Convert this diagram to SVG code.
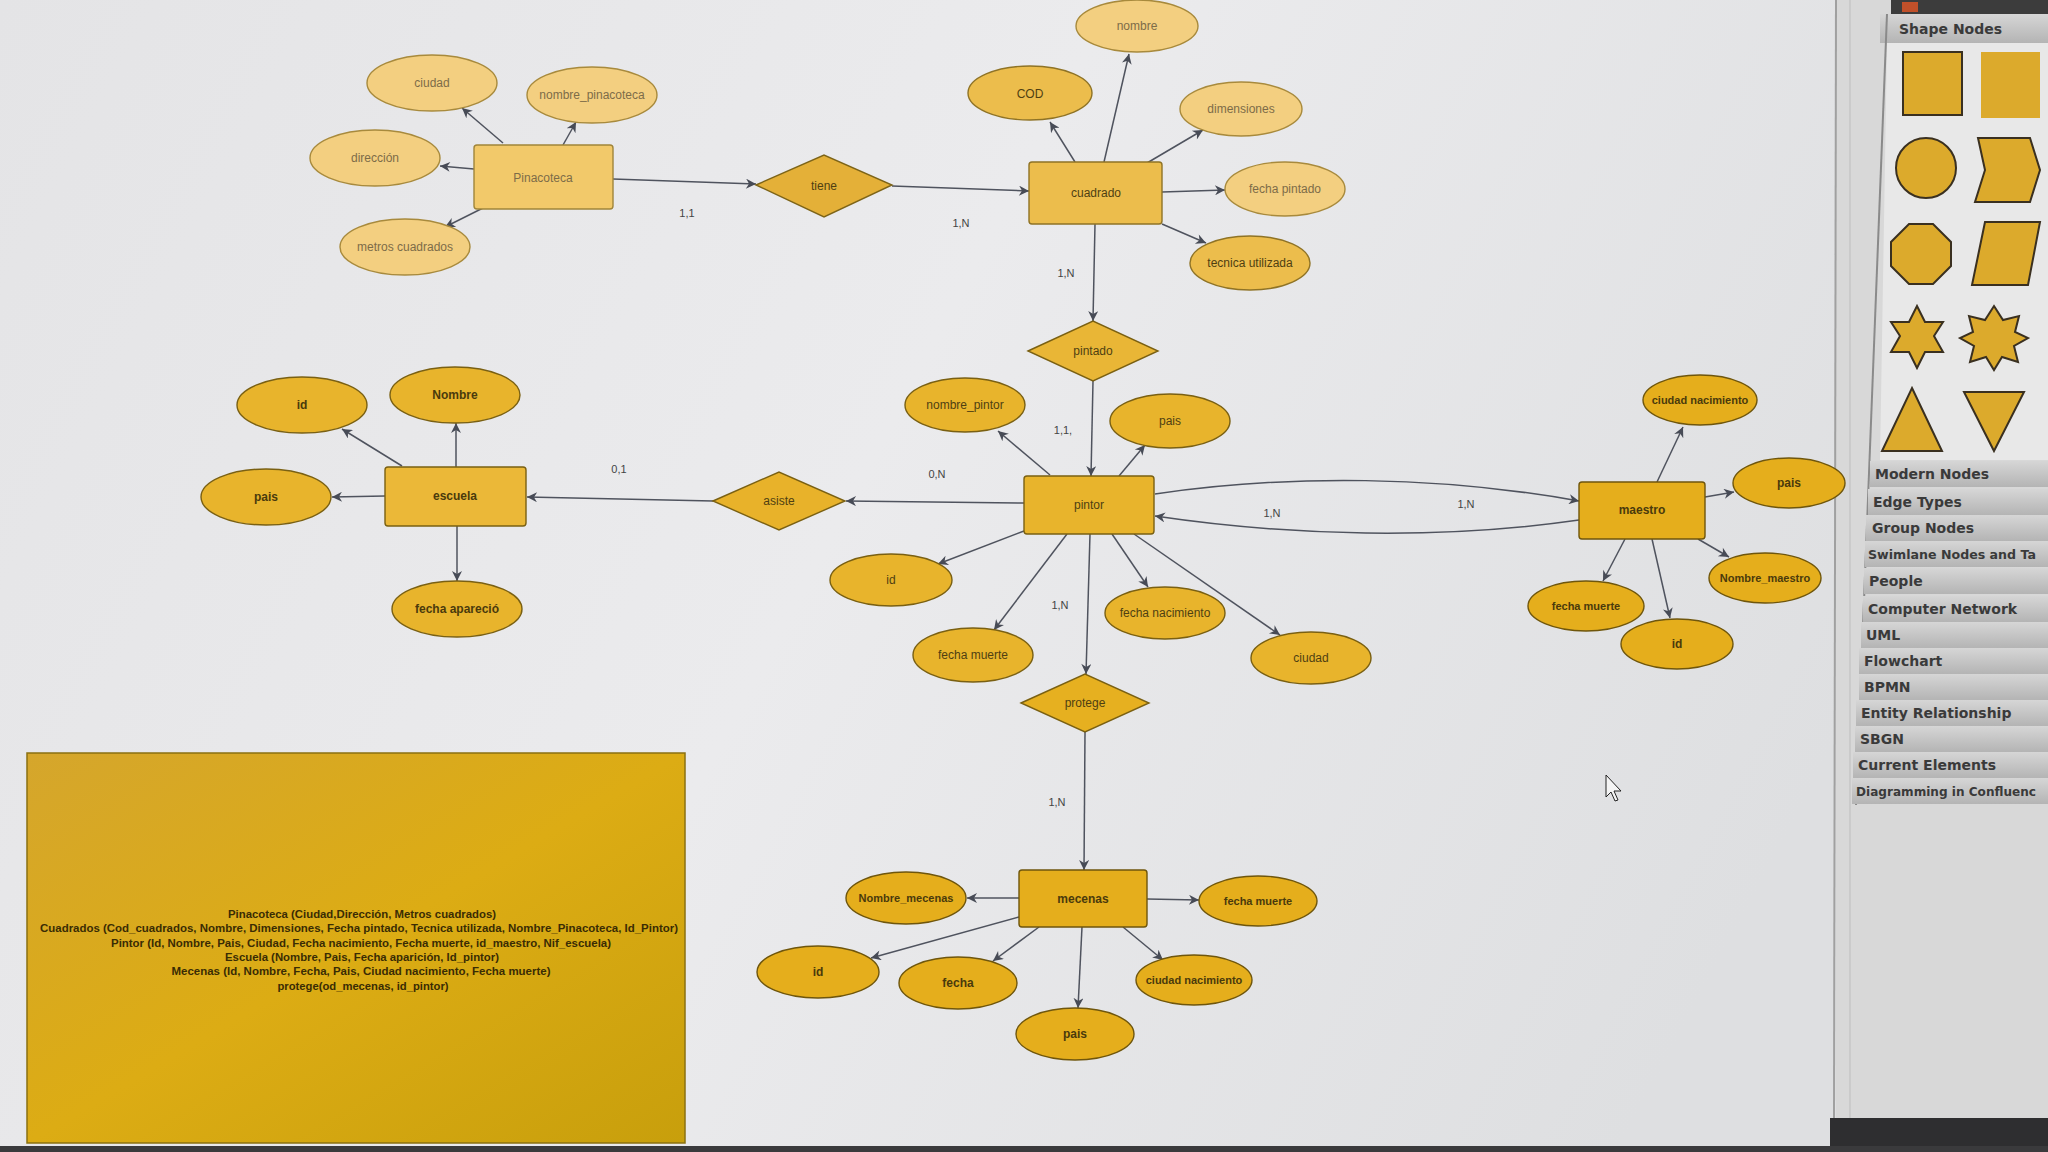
<svg xmlns="http://www.w3.org/2000/svg" width="2048" height="1152" viewBox="0 0 2048 1152">
<defs>
<linearGradient id="bg" x1="0" y1="0" x2="1" y2="0.3">
<stop offset="0" stop-color="#e4e4e6"/><stop offset="0.5" stop-color="#ebebed"/><stop offset="1" stop-color="#dedfe1"/>
</linearGradient>
<linearGradient id="boxg" x1="0" y1="0" x2="1" y2="1">
<stop offset="0" stop-color="#d5a62c"/><stop offset="0.5" stop-color="#dcac14"/><stop offset="1" stop-color="#c89f0c"/>
</linearGradient>
<linearGradient id="barg" x1="0" y1="0" x2="0" y2="1">
<stop offset="0" stop-color="#d6d6d6"/><stop offset="1" stop-color="#b4b4b4"/>
</linearGradient>
<marker id="arr" viewBox="0 0 10 10" refX="10" refY="5" markerWidth="12" markerHeight="10" markerUnits="userSpaceOnUse" orient="auto">
<path d="M0,0 L10,5 L0,10 L3,5 z" fill="#474b56"/>
</marker>
</defs>
<style>
text{font-family:"Liberation Sans",Arial,sans-serif;font-size:12px;text-anchor:middle}
.lt{fill:#f3cf80;stroke:#a88a3c;stroke-width:1.4}
.md{fill:#ecbd4c;stroke:#8f7325;stroke-width:1.4}
.st{fill:#e8b42c;stroke:#7a6012;stroke-width:1.4}
.dp{fill:#e5ae1c;stroke:#6f560c;stroke-width:1.4}
.tl{fill:#7d6c48}
.td{fill:#4f3f12}
.tb{fill:#4a3a0c;font-weight:bold}
.c{fill:none;stroke:#4f535e;stroke-width:1.5;marker-end:url(#arr)}
.lb{fill:#444;font-size:11px}
.bx{fill:#3a2c04;font-weight:bold;font-size:11.5px}
.pl{font-family:"DejaVu Sans",sans-serif;font-weight:bold;font-size:14px;fill:#3a3a3a;text-anchor:start}
.sh{fill:#dcaa2c;stroke:#3a3020;stroke-width:2}
</style>
<rect width="2048" height="1152" fill="url(#bg)"/>

<!-- right panel -->
<g id="palette">
<rect x="1836" y="0" width="212" height="1120" fill="#d8d8d8"/>
<line x1="1836" y1="0" x2="1834" y2="1120" stroke="#a0a0a0" stroke-width="2"/>
<line x1="1850" y1="0" x2="1850" y2="1120" stroke="#bdbdbd" stroke-width="1"/>
<rect x="1891" y="0" width="157" height="14" fill="#3c3c3c"/>
<rect x="1902" y="2" width="16" height="10" fill="#c0502a"/>
<rect x="1880" y="14" width="168" height="29" fill="url(#barg)"/>
<text x="1899" y="34" class="pl">Shape Nodes</text>
<polygon points="1887,43 2048,43 2048,460 1880,460" fill="#e8e8e8"/>
<line x1="1887" y1="14" x2="1856" y2="805" stroke="#8a8a8a" stroke-width="2"/>
<rect x="1903" y="52" width="59" height="63" class="sh"/>
<rect x="1981" y="52" width="59" height="66" fill="#dcaa2c"/>
<circle cx="1926" cy="168" r="30" class="sh"/>
<polygon points="1978,138 2030,138 2040,170 2030,202 1975,202 1985,170" class="sh"/>
<polygon points="1909,224 1933,224 1951,242 1951,266 1933,284 1909,284 1891,266 1891,242" class="sh"/>
<polygon points="1985,222 2040,222 2028,285 1972,285" class="sh"/>
<polygon points="1917,306 1925,322 1943,322 1934,336 1943,352 1925,352 1917,368 1909,352 1891,352 1900,336 1891,322 1909,322" class="sh"/>
<polygon points="1994,306 2003,320 2019,316 2015,332 2028,338 2014,346 2018,362 2002,357 1994,370 1986,357 1970,362 1974,346 1960,338 1973,332 1969,316 1985,320" class="sh"/>
<polygon points="1912,388 1942,451 1882,451" class="sh"/>
<polygon points="1964,392 2024,392 1994,451" class="sh"/>
<g id="palette-list">
<rect x="1870" y="461" width="178" height="26" fill="url(#barg)"/>
<rect x="1868" y="489" width="180" height="26" fill="url(#barg)"/>
<rect x="1866" y="515" width="182" height="26" fill="url(#barg)"/>
<rect x="1865" y="541" width="183" height="26" fill="url(#barg)"/>
<rect x="1864" y="568" width="184" height="26" fill="url(#barg)"/>
<rect x="1863" y="596" width="185" height="26" fill="url(#barg)"/>
<rect x="1861" y="622" width="187" height="26" fill="url(#barg)"/>
<rect x="1859" y="648" width="189" height="26" fill="url(#barg)"/>
<rect x="1859" y="674" width="189" height="26" fill="url(#barg)"/>
<rect x="1856" y="700" width="192" height="26" fill="url(#barg)"/>
<rect x="1855" y="726" width="193" height="26" fill="url(#barg)"/>
<rect x="1853" y="752" width="195" height="26" fill="url(#barg)"/>
<rect x="1852" y="778" width="196" height="26" fill="url(#barg)"/>
<text x="1875" y="479" class="pl">Modern Nodes</text>
<text x="1873" y="507" class="pl">Edge Types</text>
<text x="1872" y="533" class="pl">Group Nodes</text>
<text x="1868" y="559" class="pl" style="font-size:13px" textLength="168" lengthAdjust="spacingAndGlyphs">Swimlane Nodes and Ta</text>
<text x="1869" y="586" class="pl">People</text>
<text x="1868" y="614" class="pl">Computer Network</text>
<text x="1866" y="640" class="pl">UML</text>
<text x="1864" y="666" class="pl">Flowchart</text>
<text x="1864" y="692" class="pl">BPMN</text>
<text x="1861" y="718" class="pl">Entity Relationship</text>
<text x="1860" y="744" class="pl">SBGN</text>
<text x="1858" y="770" class="pl">Current Elements</text>
<text x="1856" y="796" class="pl" style="font-size:13px" textLength="180" lengthAdjust="spacingAndGlyphs">Diagramming in Confluenc</text>
</g>
</g>
<rect x="1830" y="1118" width="218" height="34" fill="#2e2e30"/>
<rect x="0" y="1146" width="2048" height="6" fill="#3a3a3c"/>

<!-- connectors -->
<g id="connectors">
<line x1="503" y1="143" x2="462" y2="108" class="c"/>
<line x1="563" y1="145" x2="576" y2="122" class="c"/>
<line x1="474" y1="169" x2="440" y2="166" class="c"/>
<line x1="483" y1="208" x2="445" y2="227" class="c"/>
<line x1="613" y1="179" x2="756" y2="184" class="c"/>
<line x1="892" y1="186" x2="1029" y2="191" class="c"/>
<line x1="1075" y1="162" x2="1050" y2="122" class="c"/>
<line x1="1104" y1="162" x2="1129" y2="54" class="c"/>
<line x1="1147" y1="163" x2="1203" y2="130" class="c"/>
<line x1="1162" y1="192" x2="1225" y2="190" class="c"/>
<line x1="1162" y1="224" x2="1206" y2="243" class="c"/>
<line x1="1095" y1="224" x2="1093" y2="321" class="c"/>
<line x1="1093" y1="381" x2="1091" y2="476" class="c"/>
<line x1="1050" y1="475" x2="998" y2="431" class="c"/>
<line x1="1119" y1="476" x2="1145" y2="445" class="c"/>
<line x1="1024" y1="503" x2="846" y2="501" class="c"/>
<line x1="1024" y1="531" x2="938" y2="564" class="c"/>
<line x1="1067" y1="534" x2="994" y2="630" class="c"/>
<line x1="1090" y1="534" x2="1086" y2="674" class="c"/>
<line x1="1112" y1="534" x2="1148" y2="587" class="c"/>
<line x1="1134" y1="534" x2="1280" y2="635" class="c"/>
<path d="M1155,494 C1290,474 1440,476 1579,501" class="c"/>
<path d="M1579,520 C1440,540 1290,536 1155,516" class="c"/>
<line x1="1657" y1="482" x2="1683" y2="427" class="c"/>
<line x1="1705" y1="497" x2="1734" y2="492" class="c"/>
<line x1="1698" y1="539" x2="1729" y2="557" class="c"/>
<line x1="1625" y1="539" x2="1603" y2="581" class="c"/>
<line x1="1652" y1="539" x2="1670" y2="618" class="c"/>
<line x1="713" y1="501" x2="527" y2="497" class="c"/>
<line x1="402" y1="466" x2="342" y2="429" class="c"/>
<line x1="456" y1="467" x2="456" y2="423" class="c"/>
<line x1="385" y1="496" x2="332" y2="497" class="c"/>
<line x1="457" y1="526" x2="457" y2="581" class="c"/>
<line x1="1085" y1="732" x2="1084" y2="870" class="c"/>
<line x1="1019" y1="898" x2="967" y2="898" class="c"/>
<line x1="1147" y1="899" x2="1199" y2="900" class="c"/>
<line x1="1019" y1="917" x2="871" y2="958" class="c"/>
<line x1="1039" y1="927" x2="993" y2="961" class="c"/>
<line x1="1082" y1="927" x2="1078" y2="1008" class="c"/>
<line x1="1123" y1="927" x2="1163" y2="960" class="c"/>
<text x="687" y="217" class="lb">1,1</text>
<text x="961" y="227" class="lb">1,N</text>
<text x="1066" y="277" class="lb">1,N</text>
<text x="1063" y="434" class="lb">1,1,</text>
<text x="937" y="478" class="lb">0,N</text>
<text x="619" y="473" class="lb">0,1</text>
<text x="1060" y="609" class="lb">1,N</text>
<text x="1272" y="517" class="lb">1,N</text>
<text x="1466" y="508" class="lb">1,N</text>
<text x="1057" y="806" class="lb">1,N</text>
</g>

<!-- Pinacoteca -->
<g id="pinacoteca"><rect x="474" y="145" width="139" height="64" rx="3" fill="#f2c96a" stroke="#a0853a" stroke-width="1.4"/><text x="543" y="182" class="tl">Pinacoteca</text></g>
<g id="pin-ciudad"><ellipse cx="432" cy="83" rx="65" ry="28" class="lt"/><text x="432" y="87" class="tl">ciudad</text></g>
<g id="pin-nombre"><ellipse cx="592" cy="95" rx="65" ry="28" class="lt"/><text x="592" y="99" class="tl">nombre_pinacoteca</text></g>
<g id="pin-direccion"><ellipse cx="375" cy="158" rx="65" ry="28" class="lt"/><text x="375" y="162" class="tl">dirección</text></g>
<g id="pin-metros"><ellipse cx="405" cy="247" rx="65" ry="28" class="lt"/><text x="405" y="251" class="tl">metros cuadrados</text></g>

<!-- tiene -->
<g id="tiene"><polygon points="756,185 824,155 892,185 824,217" fill="#e4b038" stroke="#7d6418" stroke-width="1.4"/><text x="824" y="190" class="td">tiene</text></g>

<!-- cuadrado -->
<g id="cuadrado"><rect x="1029" y="162" width="133" height="62" rx="3" class="md"/><text x="1096" y="197" class="td">cuadrado</text></g>
<g id="cu-nombre"><ellipse cx="1137" cy="26" rx="61" ry="26" class="lt"/><text x="1137" y="30" class="tl">nombre</text></g>
<g id="cu-cod"><ellipse cx="1030" cy="93" rx="62" ry="27" class="md"/><text x="1030" y="98" class="td">COD</text></g>
<g id="cu-dim"><ellipse cx="1241" cy="109" rx="61" ry="27" class="lt"/><text x="1241" y="113" class="tl">dimensiones</text></g>
<g id="cu-fecha"><ellipse cx="1285" cy="189" rx="60" ry="27" class="lt"/><text x="1285" y="193" class="tl">fecha pintado</text></g>
<g id="cu-tecnica"><ellipse cx="1250" cy="263" rx="60" ry="27" class="md"/><text x="1250" y="267" class="td">tecnica utilizada</text></g>

<!-- pintado -->
<g id="pintado"><polygon points="1028,351 1093,321 1158,351 1093,381" fill="#e9b636" stroke="#7a6012" stroke-width="1.4"/><text x="1093" y="355" class="td">pintado</text></g>

<!-- pintor -->
<g id="pintor"><rect x="1024" y="476" width="130" height="58" rx="3" class="st"/><text x="1089" y="509" class="td">pintor</text></g>
<g id="pi-nombre"><ellipse cx="965" cy="405" rx="60" ry="27" class="st"/><text x="965" y="409" class="td">nombre_pintor</text></g>
<g id="pi-pais"><ellipse cx="1170" cy="421" rx="60" ry="27" class="st"/><text x="1170" y="425" class="td">pais</text></g>
<g id="pi-id"><ellipse cx="891" cy="580" rx="61" ry="26" class="st"/><text x="891" y="584" class="td">id</text></g>
<g id="pi-muerte"><ellipse cx="973" cy="655" rx="60" ry="27" class="st"/><text x="973" y="659" class="td">fecha muerte</text></g>
<g id="pi-nac"><ellipse cx="1165" cy="613" rx="60" ry="26" class="st"/><text x="1165" y="617" class="td">fecha nacimiento</text></g>
<g id="pi-ciudad"><ellipse cx="1311" cy="658" rx="60" ry="26" class="st"/><text x="1311" y="662" class="td">ciudad</text></g>

<!-- asiste -->
<g id="asiste"><polygon points="713,501 779,472 845,501 779,530" fill="#e8b22a" stroke="#7a6012" stroke-width="1.4"/><text x="779" y="505" class="td">asiste</text></g>

<!-- escuela -->
<g id="escuela"><rect x="385" y="467" width="141" height="59" rx="3" fill="#ebb838" stroke="#7a6012" stroke-width="1.4"/><text x="455" y="500" class="tb">escuela</text></g>
<g id="es-id"><ellipse cx="302" cy="405" rx="65" ry="28" class="st"/><text x="302" y="409" class="tb">id</text></g>
<g id="es-nombre"><ellipse cx="455" cy="395" rx="65" ry="28" class="st"/><text x="455" y="399" class="tb">Nombre</text></g>
<g id="es-pais"><ellipse cx="266" cy="497" rx="65" ry="28" class="st"/><text x="266" y="501" class="tb">pais</text></g>
<g id="es-fecha"><ellipse cx="457" cy="609" rx="65" ry="28" class="st"/><text x="457" y="613" class="tb">fecha apareció</text></g>

<!-- maestro -->
<g id="maestro"><rect x="1579" y="482" width="126" height="57" rx="3" class="dp"/><text x="1642" y="514" class="tb">maestro</text></g>
<g id="ma-ciudad"><ellipse cx="1700" cy="400" rx="57" ry="25" class="dp"/><text x="1700" y="404" class="tb" style="font-size:11px">ciudad nacimiento</text></g>
<g id="ma-pais"><ellipse cx="1789" cy="483" rx="56" ry="25" class="dp"/><text x="1789" y="487" class="tb">pais</text></g>
<g id="ma-nombre"><ellipse cx="1765" cy="578" rx="56" ry="25" class="dp"/><text x="1765" y="582" class="tb" style="font-size:11px">Nombre_maestro</text></g>
<g id="ma-muerte"><ellipse cx="1586" cy="606" rx="58" ry="25" class="dp"/><text x="1586" y="610" class="tb" style="font-size:11px">fecha muerte</text></g>
<g id="ma-id"><ellipse cx="1677" cy="644" rx="56" ry="25" class="dp"/><text x="1677" y="648" class="tb">id</text></g>

<!-- protege -->
<g id="protege"><polygon points="1021,703 1085,674 1149,703 1085,732" fill="#e6b020" stroke="#7a6012" stroke-width="1.4"/><text x="1085" y="707" class="td">protege</text></g>

<!-- mecenas -->
<g id="mecenas"><rect x="1019" y="870" width="128" height="57" rx="3" class="dp"/><text x="1083" y="903" class="tb">mecenas</text></g>
<g id="me-nombre"><ellipse cx="906" cy="898" rx="60" ry="26" class="dp"/><text x="906" y="902" class="tb" style="font-size:11px">Nombre_mecenas</text></g>
<g id="me-muerte"><ellipse cx="1258" cy="901" rx="59" ry="25" class="dp"/><text x="1258" y="905" class="tb" style="font-size:11px">fecha muerte</text></g>
<g id="me-id"><ellipse cx="818" cy="972" rx="61" ry="26" class="dp"/><text x="818" y="976" class="tb">id</text></g>
<g id="me-fecha"><ellipse cx="958" cy="983" rx="59" ry="26" class="dp"/><text x="958" y="987" class="tb">fecha</text></g>
<g id="me-pais"><ellipse cx="1075" cy="1034" rx="59" ry="26" class="dp"/><text x="1075" y="1038" class="tb">pais</text></g>
<g id="me-ciudad"><ellipse cx="1194" cy="980" rx="58" ry="25" class="dp"/><text x="1194" y="984" class="tb" style="font-size:11px">ciudad nacimiento</text></g>

<!-- note box -->
<g id="note">
<rect x="27" y="753" width="658" height="390" fill="url(#boxg)" stroke="#8a7010" stroke-width="1.5"/>
<text x="362" y="918" class="bx" textLength="268" lengthAdjust="spacingAndGlyphs">Pinacoteca (Ciudad,Dirección, Metros cuadrados)</text>
<text x="359" y="932" class="bx" textLength="638" lengthAdjust="spacingAndGlyphs">Cuadrados (Cod_cuadrados, Nombre, Dimensiones, Fecha pintado, Tecnica utilizada, Nombre_Pinacoteca, Id_Pintor)</text>
<text x="361" y="947" class="bx" textLength="500" lengthAdjust="spacingAndGlyphs">Pintor (Id, Nombre, Pais, Ciudad, Fecha nacimiento, Fecha muerte, id_maestro, Nif_escuela)</text>
<text x="362" y="961" class="bx" textLength="274" lengthAdjust="spacingAndGlyphs">Escuela (Nombre, Pais, Fecha aparición, Id_pintor)</text>
<text x="361" y="975" class="bx" textLength="379" lengthAdjust="spacingAndGlyphs">Mecenas (Id, Nombre, Fecha, Pais, Ciudad nacimiento, Fecha muerte)</text>
<text x="363" y="990" class="bx" textLength="171" lengthAdjust="spacingAndGlyphs">protege(od_mecenas, id_pintor)</text>
</g>

<!-- mouse cursor -->
<polygon points="1606,775 1606,797 1611,792 1615,801 1618,800 1614,791 1621,791" fill="#f4f4f4" stroke="#222" stroke-width="1"/>
</svg>
